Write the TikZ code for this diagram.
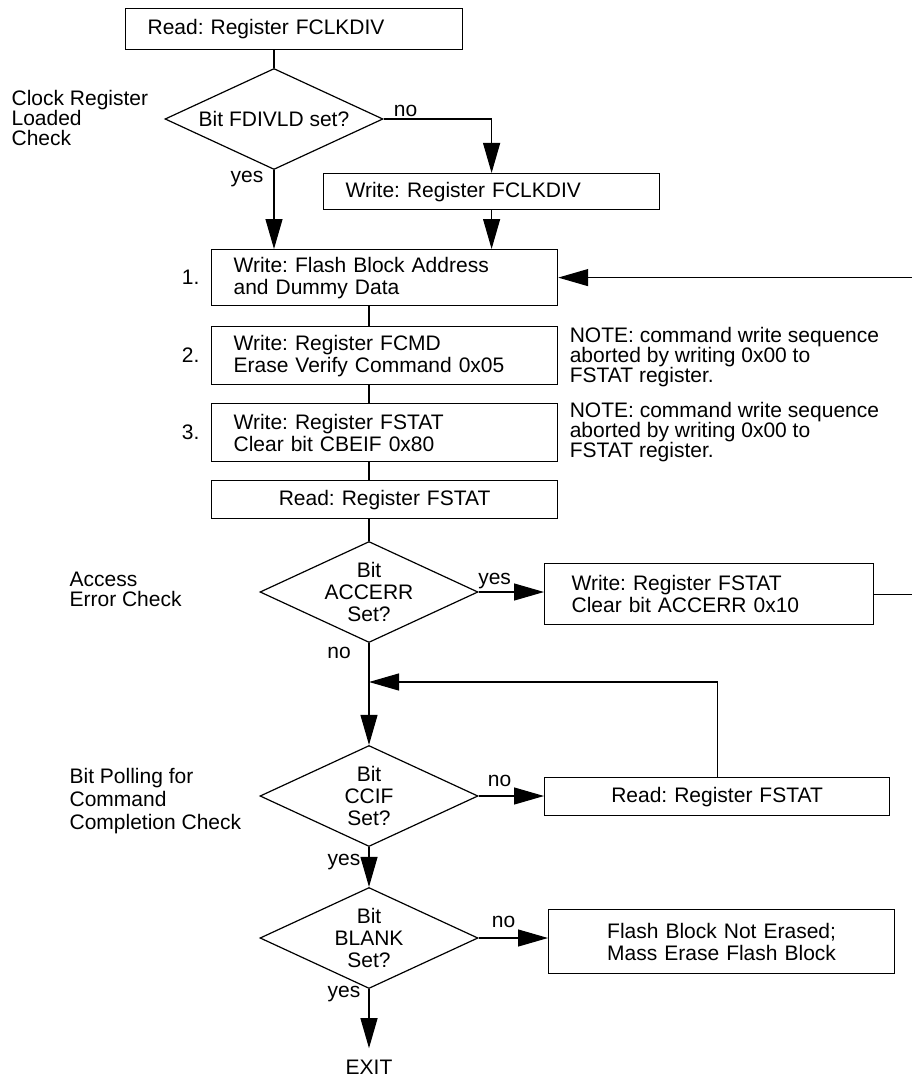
\documentclass[tikz,border=0pt]{standalone}
\usepackage{fontspec}
\setmainfont{Liberation Sans}
\frenchspacing
\usetikzlibrary{arrows.meta,calc,positioning,shapes.geometric}

\tikzset{
  stepbox/.style={draw, anchor=north west, inner xsep=22pt, inner ysep=0pt, align=left},
  check/.style={draw, diamond, aspect=2.16, inner sep=-3pt, minimum width=218pt, minimum height=101pt, align=center},
  flow/.style={-{Triangle[length=30pt,width=17pt]}},
  note/.style={anchor=north west, inner sep=0pt, align=left, font=\fontsize{21}{20}\selectfont},
  ans/.style={inner sep=0pt},
}

\begin{document}
\begin{tikzpicture}[x=1pt,y=-1pt,line width=1.2pt,font=\fontsize{21}{22}\selectfont]
\useasboundingbox (0,0) rectangle (912,1078);

\node[stepbox, text width=293pt, minimum height=41pt] (rdclk) at (125,8) {Read: Register FCLKDIV};
\node[check] (fdivld) at (274,119) {Bit FDIVLD set?};
\node[stepbox, text width=292pt, minimum height=36pt] (wrclk) at (323,173) {Write: Register FCLKDIV};
\node[stepbox, text width=302pt, minimum height=56pt] (wraddr) at (211,249) {Write: Flash Block Address\\and Dummy Data};
\node[stepbox, text width=302pt, minimum height=58pt] (wrcmd) at (211,326) {Write: Register FCMD\\Erase Verify Command 0x05};
\node[stepbox, text width=302pt, minimum height=58pt] (wrstat) at (211,403) {Write: Register FSTAT\\Clear bit CBEIF 0x80};
\node[stepbox, align=center, text width=302pt, minimum height=38pt] (rdstat) at (211,480) {Read: Register FSTAT};
\node[check] (accerr) at (369,592) {Bit\\ACCERR\\Set?};
\node[stepbox, inner xsep=27pt, text width=275pt, minimum height=61pt] (clracc) at (544,563) {Write: Register FSTAT\\Clear bit ACCERR 0x10};
\node[check] (ccif) at (369,796) {Bit\\CCIF\\Set?};
\node[stepbox, align=center, text width=301pt, minimum height=38pt] (rdpoll) at (544,777) {Read: Register FSTAT};
\node[check] (blank) at (369,938) {Bit\\BLANK\\Set?};
\node[stepbox, align=center, text width=302pt, minimum height=64pt] (nerased) at (548,909) {Flash Block Not Erased;\\Mass Erase Flash Block};
\node[inner ysep=11pt] (exit) at (369,1067) {EXIT};

% notes and side labels
\node[note] (note1) at ($(wrcmd.north east)+(11,1)$) {NOTE: command write sequence\\aborted by writing 0x00 to\\FSTAT register.};
\node[note] (note2) at ($(wrstat.north east)+(11,-1)$) {NOTE: command write sequence\\aborted by writing 0x00 to\\FSTAT register.};
\node[note] (lblclk) at (11,90) {Clock Register\\Loaded\\Check};
\node[note] (lblacc) at (69,571) {Access\\Error Check};
\node[note, font=\fontsize{21}{23}\selectfont] (lblpoll) at (69,768) {Bit Polling for\\Command\\Completion Check};
\node[ans, left=11pt of wraddr] (num1) {1.};
\node[ans, left=11pt of wrcmd] (num2) {2.};
\node[ans, left=11pt of wrstat] (num3) {3.};

% yes / no
\node[ans] (no1) at ($(fdivld.east)+(22,-8)$) {no};
\node[ans] (yes1) at ($(fdivld.south)+(-27,9)$) {yes};
\node[ans] (yes2) at ($(accerr.east)+(16,-11)$) {yes};
\node[ans] (no2) at ($(accerr.south)+(-30,10)$) {no};
\node[ans] (no3) at ($(ccif.east)+(21,-15)$) {no};
\node[ans] (yes3) at ($(ccif.south)+(-25,15)$) {yes};
\node[ans] (no4) at ($(blank.east)+(25,-16)$) {no};
\node[ans] (yes4) at ($(blank.south)+(-25,5)$) {yes};

% connectors
\draw (rdclk.south -| fdivld.north) -- (fdivld.north);
\draw[flow] (fdivld.east) -| (wrclk.north);
\draw[flow] (fdivld.south) -- (fdivld.south |- wraddr.north);
\draw[flow] (wrclk.south) -- (wrclk.south |- wraddr.north);
\draw (wraddr.south -| accerr.north) -- (wrcmd.north -| accerr.north);
\draw (wrcmd.south -| accerr.north) -- (wrstat.north -| accerr.north);
\draw (wrstat.south -| accerr.north) -- (rdstat.north -| accerr.north);
\draw (rdstat.south -| accerr.north) -- (accerr.north);
\draw[flow] (accerr.east) -- (accerr.east -| clracc.west);
\coordinate (edgeR) at (916,0);
\draw[flow] (clracc.east) -- (clracc.east -| edgeR) |- (wraddr.east);
\draw[flow] (accerr.south) -- (ccif.north);
\coordinate (merge) at (369,682);
\draw[flow] (rdpoll.north) |- (merge);
\draw[flow] (ccif.east) -- (ccif.east -| rdpoll.west);
\draw[flow] (ccif.south) -- (blank.north);
\draw[flow] (blank.east) -- (blank.east -| nerased.west);
\draw[flow] (blank.south) -- (exit.north);
\end{tikzpicture}
\end{document}
